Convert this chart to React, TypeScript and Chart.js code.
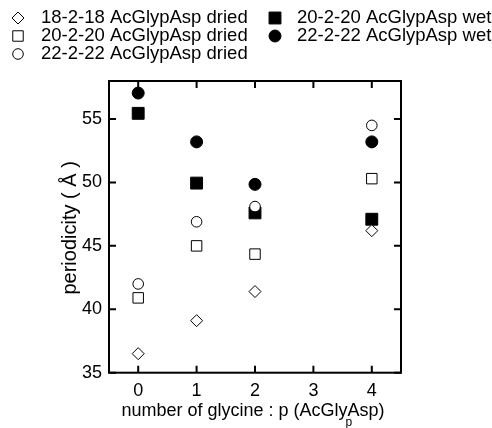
import React, { useEffect, useRef } from 'react';
import { Chart, registerables } from 'chart.js';

Chart.register(...registerables);

const xValues = [0, 1, 2, 4];
const dried18 = [36.5, 39.1, 41.4, 46.2];
const dried20 = [40.9, 45.0, 44.35, 50.3];
const dried22 = [42.0, 46.9, 48.1, 54.5];
const wet20 = [55.45, 49.95, 47.6, 47.1];
const wet22 = [57.05, 53.2, 49.85, 53.2];
const xTicks = [0, 1, 2, 3, 4];
const yTicks = [35, 40, 45, 50, 55];

const FONT = '"Liberation Sans", Arial, Helvetica, sans-serif';

const pts = (ys: number[]) => xValues.map((x, i) => ({ x, y: ys[i] }));

function drawMarker(ctx: CanvasRenderingContext2D, style: string, r: number, x: number, y: number) {
  ctx.beginPath();
  if (style === 'circle') {
    ctx.arc(x, y, r, 0, Math.PI * 2);
  } else if (style === 'rect') {
    const s = Math.SQRT1_2 * r;
    ctx.rect(x - s, y - s, 2 * s, 2 * s);
  } else if (style === 'rectRot') {
    ctx.moveTo(x, y - r);
    ctx.lineTo(x + r, y);
    ctx.lineTo(x, y + r);
    ctx.lineTo(x - r, y);
    ctx.closePath();
  }
  ctx.fill();
  ctx.stroke();
}

const framePlugin = {
  id: 'frameAndText',
  afterDraw(chart: any) {
    const { ctx, chartArea: a, scales } = chart;
    const xs = scales.x;
    const ys = scales.y;
    ctx.save();
    ctx.strokeStyle = '#000';
    ctx.lineWidth = 2;
    ctx.strokeRect(a.left, a.top, a.right - a.left, a.bottom - a.top);
    const tl = 7;
    ctx.beginPath();
    xTicks.forEach((v) => {
      const px = xs.getPixelForValue(v);
      ctx.moveTo(px, a.bottom);
      ctx.lineTo(px, a.bottom - tl);
      ctx.moveTo(px, a.top);
      ctx.lineTo(px, a.top + tl);
    });
    yTicks.forEach((v) => {
      const py = ys.getPixelForValue(v);
      ctx.moveTo(a.left, py);
      ctx.lineTo(a.left + tl, py);
      ctx.moveTo(a.right, py);
      ctx.lineTo(a.right - tl, py);
    });
    ctx.stroke();

    // axis titles
    ctx.fillStyle = '#000';
    ctx.font = `18px ${FONT}`;
    ctx.textBaseline = 'middle';
    ctx.textAlign = 'center';
    const cx = (a.left + a.right) / 2 - 2;
    const titleMain = 'number of glycine : p (AcGlyAsp)';
    ctx.fillText(titleMain, cx, 411);
    const full = ctx.measureText(titleMain).width;
    const before = ctx.measureText('number of glycine : p (AcGly').width;
    const subX = cx - full / 2 + before - 2;
    ctx.font = `12px ${FONT}`;
    ctx.textAlign = 'left';
    ctx.fillText('p', subX, 423);

    ctx.save();
    ctx.font = `20px ${FONT}`;
    ctx.textAlign = 'center';
    ctx.translate(70, (a.top + a.bottom) / 2 + 1);
    ctx.rotate(-Math.PI / 2);
    ctx.fillText('periodicity ( Å )', 0, 0);
    ctx.restore();

    // legend
    const slots = [
      { mx: 18, tx: 41, y: 18 },
      { mx: 18, tx: 41, y: 36 },
      { mx: 18, tx: 41, y: 54 },
      { mx: 275, tx: 297, y: 18 },
      { mx: 275, tx: 297, y: 36 },
    ];
    ctx.font = `18.5px ${FONT}`;
    ctx.textAlign = 'left';
    ctx.textBaseline = 'middle';
    chart.data.datasets.forEach((ds: any, i: number) => {
      const s = slots[i];
      ctx.save();
      ctx.fillStyle = ds.backgroundColor;
      ctx.strokeStyle = ds.borderColor;
      ctx.lineWidth = ds.borderWidth;
      drawMarker(ctx, ds.pointStyle, ds.pointRadius, s.mx, s.y);
      ctx.restore();
      ctx.fillStyle = '#000';
      ctx.fillText(ds.label, s.tx, s.y);
    });
    ctx.restore();
  },
};

export default function App() {
  const ref = useRef<HTMLCanvasElement>(null);
  useEffect(() => {
    if (!ref.current) return;
    const mk = (label: string, ys: number[], style: string, r: number, filled: boolean) => ({
      label,
      data: pts(ys),
      pointStyle: style,
      pointRadius: r,
      pointHoverRadius: r,
      backgroundColor: filled ? '#000' : '#fff',
      borderColor: '#000',
      borderWidth: 1,
      showLine: false,
    });
    const chart = new Chart(ref.current, {
      type: 'scatter',
      data: {
        datasets: [
          mk('18-2-18 AcGlypAsp dried', dried18, 'rectRot', 6, false),
          mk('20-2-20 AcGlypAsp dried', dried20, 'rect', 7.4, false),
          mk('22-2-22 AcGlypAsp dried', dried22, 'circle', 5.3, false),
          mk('20-2-20 AcGlypAsp wet', wet20, 'rect', 8.4, true),
          mk('22-2-22 AcGlypAsp wet', wet22, 'circle', 6, true),
        ] as any,
      },
      options: {
        animation: false,
        responsive: false,
        devicePixelRatio: 1,
        layout: { padding: { top: 81, right: 91, left: 0, bottom: 0 } },
        plugins: { legend: { display: false }, tooltip: { enabled: false } },
        scales: {
          x: {
            type: 'linear',
            min: -0.5,
            max: 4.5,
            afterBuildTicks: (s: any) => {
              s.ticks = xTicks.map((v) => ({ value: v }));
            },
            afterFit: (s: any) => {
              s.height = 55.3;
            },
            grid: { display: false, drawTicks: false },
            border: { display: false },
            ticks: { color: '#000', padding: 8, font: { family: FONT, size: 18 } },
          },
          y: {
            type: 'linear',
            min: 35,
            max: 58,
            afterBuildTicks: (s: any) => {
              s.ticks = yTicks.map((v) => ({ value: v }));
            },
            afterFit: (s: any) => {
              s.width = 109;
            },
            grid: { display: false, drawTicks: false },
            border: { display: false },
            ticks: { color: '#000', padding: 7, font: { family: FONT, size: 18 } },
          },
        },
      },
      plugins: [framePlugin],
    });
    return () => chart.destroy();
  }, []);
  return (
    <div style={{ position: 'fixed', left: 0, top: 0, width: 492, height: 428, background: '#fff' }}>
      <canvas ref={ref} width={492} height={428} style={{ width: 492, height: 428 }} />
    </div>
  );
}
